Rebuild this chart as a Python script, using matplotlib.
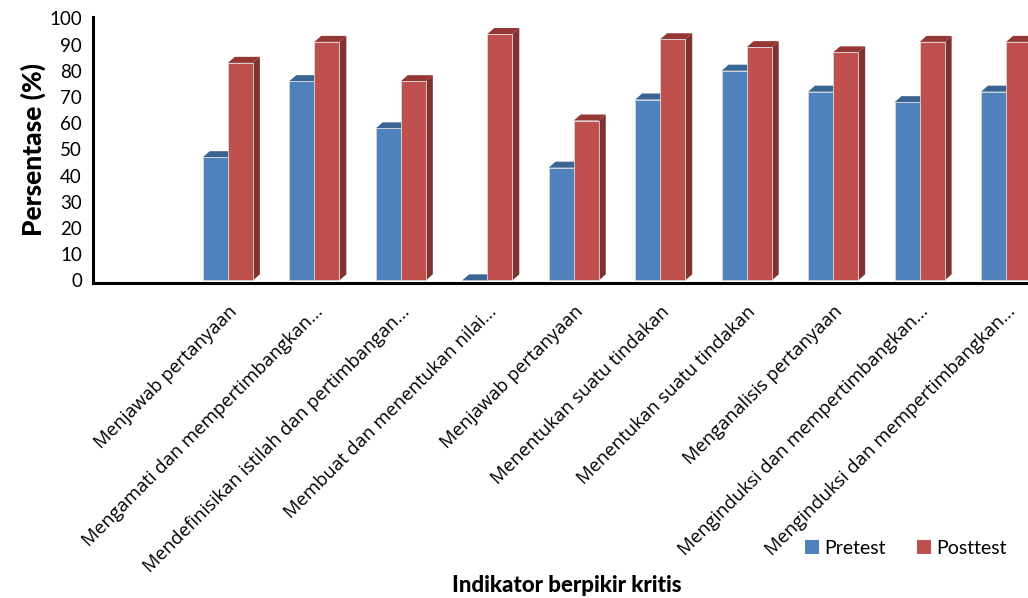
import matplotlib.pyplot as plt
from matplotlib.patches import Polygon, Patch

categories = ['Menjawab pertanyaan', 'Mengamati dan mempertimbangkan...',
              'Mendefinisikan istilah dan pertimbangan...', 'Membuat dan menentukan nilai...',
              'Menjawab pertanyaan', 'Menentukan suatu tindakan', 'Menentukan suatu tindakan',
              'Menganalisis pertanyaan', 'Menginduksi dan mempertimbangkan...',
              'Menginduksi dan mempertimbangkan...']
pretest = [47, 76, 58, 0, 43, 69, 80, 72, 68, 72]
posttest = [83, 91, 76, 94, 61, 92, 89, 87, 91, 91]

plt.rcParams['font.family'] = ['Lato', 'DejaVu Sans']

BLUE = ('#4F81BD', '#3A6593', '#3A6593')   # front, top, side
RED = ('#C0504D', '#953735', '#7F3230')
W = 0.29      # bar width (category units)
DX = 0.08     # depth shift in x
DY = 2.3      # depth shift in y


def bar3d(ax, x0, h, cols):
    front, top, side = cols
    ax.add_patch(Polygon([(x0 + W, 0), (x0 + W + DX, DY), (x0 + W + DX, h + DY), (x0 + W, h)],
                         closed=True, facecolor=side, edgecolor='none', zorder=3))
    ax.add_patch(Polygon([(x0, h), (x0 + DX, h + DY), (x0 + W + DX, h + DY), (x0 + W, h)],
                         closed=True, facecolor=top, edgecolor='none', zorder=3))
    if h > 0:
        ax.bar(x0, h, width=W, align='edge', color=front, edgecolor='#D9D9D9',
               linewidth=0.6, zorder=4)


fig = plt.figure(figsize=(10.28, 5.98), dpi=100)
ax = fig.add_axes([93 / 1028, 1 - 283 / 598, (1058 - 93) / 1028, 266 / 598])

pos = list(range(1, len(categories) + 1))
for i, p in enumerate(pos):
    bar3d(ax, p - W, pretest[i], BLUE)
    bar3d(ax, p, posttest[i], RED)

ax.set_xlim(-0.56, 10.6)
ax.set_ylim(-1, 100.5)
ax.set_yticks(range(0, 101, 10))
ax.tick_params(axis='y', length=0, labelsize=13.5, pad=8)
ax.set_xticks(pos)
ax.set_xticklabels(categories, rotation=45, ha='right', rotation_mode='anchor',
                   fontsize=13.3, family=['Open Sans', 'DejaVu Sans'])
ax.tick_params(axis='x', length=0, pad=14)

for s in ['top', 'right']:
    ax.spines[s].set_visible(False)
for s in ['left', 'bottom']:
    ax.spines[s].set_linewidth(2.2)
    ax.spines[s].set_color('black')

ax.set_ylabel('Persentase (%)', fontsize=19, fontweight='black', labelpad=2)
fig.text(567 / 1028, 1 - 585 / 598, 'Indikator berpikir kritis', fontsize=16,
         fontweight='black', ha='center', va='center')

handles = [Patch(facecolor=BLUE[0], label='Pretest'), Patch(facecolor=RED[0], label='Posttest')]
fig.legend(handles=handles, loc='center', bbox_to_anchor=(906 / 1028, 1 - 548 / 598), ncol=2,
           frameon=False, fontsize=14, handlelength=0.7, handleheight=0.7,
           handletextpad=0.3, columnspacing=1.6)

fig.savefig('out.png', dpi=100)
